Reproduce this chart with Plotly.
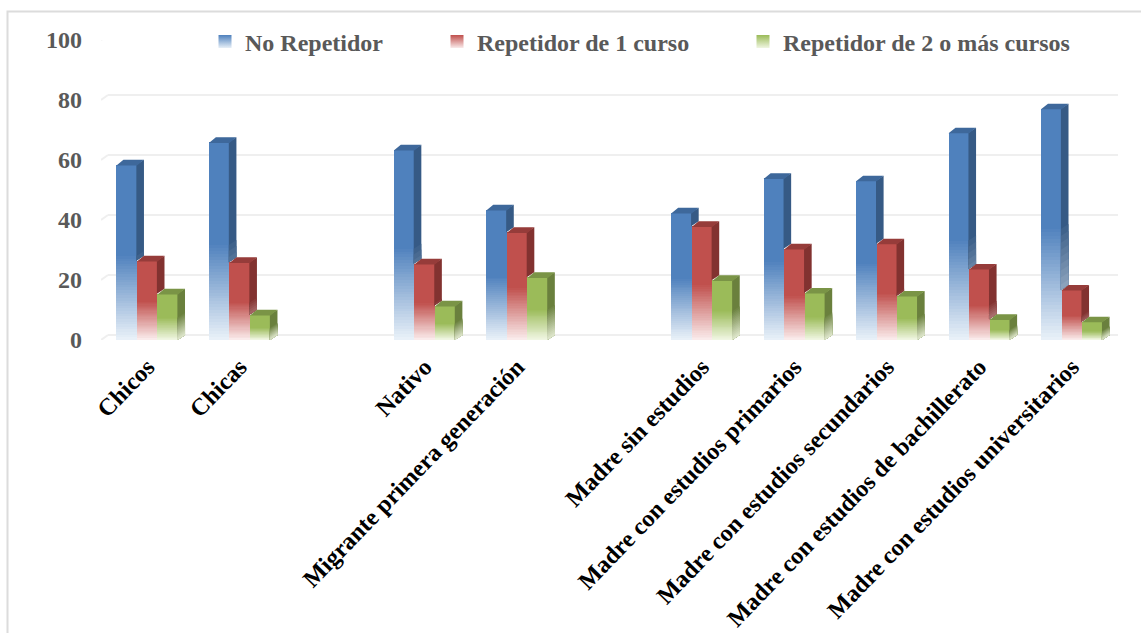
import plotly.graph_objects as go

# Survey shares by pupil group and repetition status (%)
categories = ["Chicos", "Chicas", "", "Nativo", "Migrante primera generación", "",
              "Madre sin estudios", "Madre con estudios primarios",
              "Madre con estudios secundarios", "Madre con estudios de bachillerato",
              "Madre con estudios universitarios"]
no_repetidor = [58.4, 65.9, None, 63.4, 43.4, None, 42.4, 53.9, 53.1, 69.1, 77.1]
repetidor_1 = [26.4, 25.9, None, 25.4, 35.9, None, 37.9, 30.4, 32.1, 23.7, 16.7]
repetidor_2 = [15.4, 8.4, None, 11.4, 20.9, None, 19.9, 15.7, 14.7, 6.9, 6.1]
y_ticks = [0, 20, 40, 60, 80, 100]

W, H = 1141, 633
PLOT_L, PLOT_R, PLOT_T, PLOT_B = 101, 1118, 40, 340
FONT = "Liberation Serif"

# Pseudo-3D geometry, in axis units
BAR_W = 0.222
DEPTH_X = 7 / ((PLOT_R - PLOT_L) / len(categories))
DEPTH_Y = 5 / ((PLOT_B - PLOT_T) / 100)
SEAM_X = 0.6 / ((PLOT_R - PLOT_L) / len(categories))
SEAM_Y = 0.6 / ((PLOT_B - PLOT_T) / 100)
FADE_START = 0.48
FADE_STEPS = 32

series = [
    dict(name="No Repetidor", values=no_repetidor, front=(79, 129, 189), side=(54, 90, 133),
         top=(62, 104, 155), pale=(232, 240, 248), legend="legend", lx=205),
    dict(name="Repetidor de 1 curso", values=repetidor_1, front=(192, 80, 77), side=(130, 50, 48),
         top=(150, 60, 58), pale=(250, 235, 235), legend="legend2", lx=437),
    dict(name="Repetidor de 2 o más cursos", values=repetidor_2, front=(155, 187, 89), side=(106, 128, 61),
         top=(122, 148, 70), pale=(240, 246, 226), legend="legend3", lx=743),
]


def mix(a, b, t):
    return "rgb(%d,%d,%d)" % tuple(round(p + (q - p) * t) for p, q in zip(a, b))


def polygons(rows):
    xs, ys = [], []
    for pts in rows:
        xs += [p[0] for p in pts] + [pts[0][0], None]
        ys += [p[1] for p in pts] + [pts[0][1], None]
    return xs, ys


fig = go.Figure()
indices = [i for i, c in enumerate(categories) if c]
face_traces = []

for k, s in enumerate(series):
    offset = -1.5 * BAR_W + k * BAR_W
    values = [s["values"][i] for i in indices]

    # Front faces: the full bar, then shorter and paler ones painted over it
    fig.add_trace(go.Bar(x=indices, y=values, offset=offset, width=BAR_W,
                         marker=dict(color=mix(s["front"], s["front"], 0), line_width=0),
                         showlegend=False, hoverinfo="x+y"))
    fade_x, fade_y, fade_c = [], [], []
    for step in range(FADE_STEPS):
        t = (step + 1) / FADE_STEPS
        for i, v in zip(indices, values):
            fade_x.append(i)
            fade_y.append(v * FADE_START * (1 - step / FADE_STEPS))
            fade_c.append(mix(s["front"], s["pale"], t))
    fig.add_trace(go.Bar(x=fade_x, y=fade_y, offset=offset, width=BAR_W,
                         marker=dict(color=fade_c, line_width=0),
                         showlegend=False, hoverinfo="skip"))

    # Side faces start where the neighbouring bar in front of them ends;
    # each paler step is painted over the taller one before it
    next_vals = series[k + 1]["values"] if k < 2 else [0] * len(categories)
    right = offset + BAR_W
    for step in range(0, FADE_STEPS + 1, 2):
        rows = []
        for i, v in zip(indices, values):
            hi = v if step == 0 else v * FADE_START * (1 - (step - 2) / FADE_STEPS)
            lo = next_vals[i]
            if hi <= lo:
                continue
            x0, x1 = i + right - SEAM_X, i + right + DEPTH_X
            rows.append([(x0, lo), (x1, lo + DEPTH_Y), (x1, hi + DEPTH_Y), (x0, hi)])
        if rows:
            xs, ys = polygons(rows)
            face_traces.append(go.Scatter(
                x=xs, y=ys, mode="lines", fill="toself", line=dict(width=0),
                fillcolor=mix(s["side"], s["pale"], step / FADE_STEPS * 0.85),
                showlegend=False, hoverinfo="skip"))

    # Top faces
    rows = [[(i + offset, v - SEAM_Y), (i + right, v - SEAM_Y),
             (i + right + DEPTH_X, v + DEPTH_Y), (i + offset + DEPTH_X, v + DEPTH_Y)]
            for i, v in zip(indices, values)]
    xs, ys = polygons(rows)
    face_traces.append(go.Scatter(x=xs, y=ys, mode="lines", fill="toself", line=dict(width=0),
                                  fillcolor=mix(s["top"], s["top"], 0),
                                  showlegend=False, hoverinfo="skip"))

fig.add_traces(face_traces)

# Legend entries, one independently placed legend per series
for s in series:
    fig.add_trace(go.Scatter(
        x=[None], y=[None], mode="markers", name=s["name"], legend=s["legend"],
        marker=dict(symbol="square", size=13, color=mix(s["front"], s["front"], 0),
                    gradient=dict(type="vertical", color=mix(s["pale"], s["pale"], 0)))))

# Back-wall gridlines and their floor-level stubs
shapes = []
GRID = "#efefef"
x_lo, x_hi = -0.5, len(categories) - 0.5
for v in y_ticks:
    shapes.append(dict(type="line", layer="below", xref="x", yref="y", x0=x_lo + DEPTH_X, x1=x_hi + DEPTH_X,
                       y0=v + DEPTH_Y, y1=v + DEPTH_Y, line=dict(color=GRID, width=2)))
    shapes.append(dict(type="line", layer="below", xref="x", yref="y", x0=x_lo, x1=x_lo + DEPTH_X,
                       y0=v, y1=v + DEPTH_Y, line=dict(color=GRID, width=2)))

# Chart frame, open at the bottom and right
shapes.append(dict(type="path", layer="below", xref="paper", yref="paper",
                   path=f"M {7.5 / W},0 L {7.5 / W},{1 - 11.5 / H} L 1,{1 - 11.5 / H}",
                   line=dict(color="#dcdcdc", width=2)))

legend_style = dict(orientation="h", xref="paper", yref="paper",
                    xanchor="left", yanchor="middle", y=1 - 42 / H,
                    bgcolor="rgba(0,0,0,0)", borderwidth=0,
                    font=dict(family=FONT, size=24, color="#595959", weight="bold"))
legends = {s["legend"]: dict(legend_style, x=s["lx"] / W) for s in series}

fig.update_layout(
    width=W, height=H, margin=dict(l=0, r=0, t=0, b=0, autoexpand=False), autosize=False,
    paper_bgcolor="white", plot_bgcolor="rgba(0,0,0,0)",
    barmode="overlay", bargap=0, shapes=shapes, showlegend=True,
    xaxis=dict(domain=[PLOT_L / W, PLOT_R / W], range=[x_lo, x_hi], tickmode="array",
               tickvals=indices, ticktext=[categories[i] for i in indices], tickangle=-46,
               showgrid=False, zeroline=False, showline=False, ticks="", ticklabelstandoff=7,
               tickfont=dict(family=FONT, size=24.2, color="black", weight="bold")),
    yaxis=dict(domain=[1 - PLOT_B / H, 1 - PLOT_T / H], range=[0, 100], tickmode="array",
               tickvals=y_ticks, showgrid=False, zeroline=False, showline=False, ticks="",
               ticklabelstandoff=18,
               tickfont=dict(family=FONT, size=24, color="#595959", weight="bold")),
    **legends,
)

fig.write_html("out.html")
